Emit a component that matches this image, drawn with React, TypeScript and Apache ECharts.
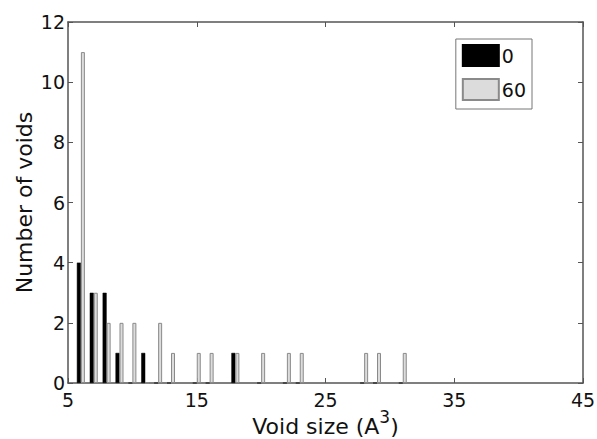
import React, { useEffect, useRef } from "react";
import * as echarts from "echarts";

const voidSizes = [6, 7, 8, 9, 10, 11, 12, 13, 15, 16, 18, 20, 22, 23, 28, 29, 31];
const counts0 = [4, 3, 3, 1, 0, 1, 0, 0, 0, 0, 1, 0, 0, 0, 0, 0, 0];
const counts60 = [11, 3, 2, 2, 2, 0, 2, 1, 1, 1, 1, 1, 1, 1, 1, 1, 1];
const seriesNames = ["0", "60"];
const xTicks = [5, 15, 25, 35, 45];

const FONT = "DejaVu Sans";
const AX = "#555";
const TXT = "#111";

export default function App() {
  const ref = useRef<HTMLDivElement>(null);
  useEffect(() => {
    if (!ref.current) return;
    const chart = echarts.init(ref.current, undefined, { renderer: "svg" });
    const xCommon = {
      type: "value",
      min: 5,
      max: 45,
      splitLine: { show: false },
      axisLine: { show: true, onZero: false, lineStyle: { color: AX, width: 1.5 } },
      axisTick: { show: true, inside: true, length: 5, customValues: xTicks, lineStyle: { color: AX } },
    };
    const yCommon = {
      type: "value",
      min: 0,
      max: 12,
      interval: 2,
      splitLine: { show: false },
      axisLine: { show: true, onZero: false, lineStyle: { color: AX, width: 1.5 } },
      axisTick: { show: true, inside: true, length: 5, lineStyle: { color: AX } },
    };
    chart.setOption({
      animation: false,
      backgroundColor: "#fff",
      textStyle: { fontFamily: FONT },
      grid: { left: 68, right: 14, top: 22, bottom: 56, containLabel: false, outerBoundsMode: "none" },
      legend: {
        orient: "vertical",
        right: 65,
        top: 39,
        padding: [5, 6, 8, 6],
        itemWidth: 36,
        itemHeight: 21,
        itemGap: 11,
        icon: "rect",
        borderColor: "#777",
        borderWidth: 1,
        backgroundColor: "#fff",
        textStyle: { fontSize: 19, color: TXT, fontFamily: FONT, padding: [0, 0, 0, -2] },
        data: seriesNames,
      },
      xAxis: [
        {
          ...xCommon,
          position: "bottom",
          name: "{m|Void size (A}{sup|3}{m|)}",
          nameLocation: "middle",
          nameGap: 25,
          nameMoveOverlap: false,
          nameTextStyle: {
            fontSize: 22,
            color: TXT,
            fontFamily: FONT,
            rich: {
              m: { fontSize: 22, lineHeight: 36, color: TXT, fontFamily: FONT },
              sup: { fontSize: 17, lineHeight: 16, verticalAlign: "top", color: TXT, fontFamily: FONT },
            },
          },
          axisLabel: {
            show: true,
            customValues: xTicks,
            fontSize: 19,
            lineHeight: 15,
            color: TXT,
            margin: 9,
            fontFamily: FONT,
          },
        },
        { ...xCommon, position: "top", axisLabel: { show: false } },
      ],
      yAxis: [
        {
          ...yCommon,
          position: "left",
          name: "Number of voids",
          nameLocation: "middle",
          nameGap: 33,
          nameMoveOverlap: false,
          nameTextStyle: { fontSize: 22, color: TXT, fontFamily: FONT },
          axisLabel: { fontSize: 19, lineHeight: 15, color: TXT, margin: 3, fontFamily: FONT },
        },
        { ...yCommon, position: "right", axisLabel: { show: false } },
      ],
      series: [
        {
          name: seriesNames[0],
          type: "bar",
          xAxisIndex: 0,
          yAxisIndex: 0,
          barWidth: 4,
          barGap: "0%",
          itemStyle: { color: "#000", borderColor: "#000", borderWidth: 0.5 },
          data: voidSizes.map((v, i) => [v, counts0[i]]),
        },
        {
          name: seriesNames[1],
          type: "bar",
          xAxisIndex: 0,
          yAxisIndex: 0,
          barWidth: 4,
          barGap: "0%",
          itemStyle: { color: "#dcdcdc", borderColor: "#8a8a8a", borderWidth: 1 },
          data: voidSizes.map((v, i) => [v, counts60[i]]),
        },
      ],
    });
    return () => chart.dispose();
  }, []);
  return <div ref={ref} style={{ position: "fixed", left: 0, top: 0, width: 597, height: 439 }} />;
}
